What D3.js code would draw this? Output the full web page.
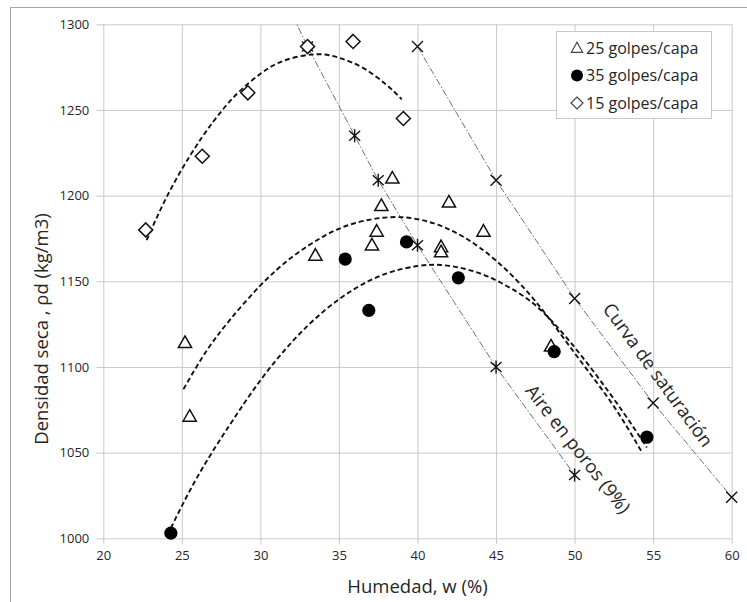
<!DOCTYPE html>
<html><head><meta charset="utf-8">
<script src="https://cdn.jsdelivr.net/npm/d3@7"></script>
<style>
body{margin:0;background:#fff}
svg text{font-family:'Open Sans',sans-serif;fill:#262626}
</style>
</head><body>
<svg id="chart" width="747" height="602"></svg>
<script>
// ---------- data ----------
const xTicks = [20,25,30,35,40,45,50,55,60];
const yTicks = [1000,1050,1100,1150,1200,1250,1300];
const legendLabels = ["25 golpes/capa","35 golpes/capa","15 golpes/capa"];
const xTitle = "Humedad, w (%)";
const yTitle = "Densidad seca , \u03c1d (kg/m3)";
const satLabel = "Curva de saturación";
const airLabel = "Aire en poros (9%)";

// 25 golpes/capa (triangles)
const w25 = [25.2,25.5,33.5,37.1,37.4,37.7,38.4,41.5,41.5,42.0,44.2,48.5];
const d25 = [1114,1071,1165,1171,1179,1194,1210,1170,1167,1196,1179,1112];
// 35 golpes/capa (filled circles)
const w35 = [24.3,35.4,36.9,39.3,42.6,48.7,54.6];
const d35 = [1003,1163,1133,1173,1152,1109,1059];
// 15 golpes/capa (diamonds)
const w15 = [22.7,26.3,29.2,33.0,35.9,39.1];
const d15 = [1180,1223,1260,1287,1290,1245];

// saturation curve (x markers)
const wSat = [40,45,50,55,60];
const dSat = [1287,1209,1140,1079,1024];
// air voids 9% curve (asterisk markers); first point lies above the plot
const wAir = [30,33,36,37.5,40,45,50];
const dAir = [1344,1287,1235,1209,1171,1100,1037];
const airMarkerFrom = 1;

// trend curves
const fit15W = [22.76,24,25.5,27,28.5,30,31.5,33.5,35,36.5,38,39];
const fit15D = [1174,1198.6,1223,1243.2,1259.3,1271.1,1278.8,1282.5,1280.5,1274.7,1264.9,1256.2];
const fit25W = [25.1,26.5,28,30,32,34,36,38.6,41,43,45,47,48.65,50.5,52.5,54.3];
const fit25D = [1087,1108.4,1126.8,1147.6,1164,1176.1,1183.9,1187.5,1183.9,1175.5,1162.1,1143.8,1124.9,1102,1077,1050];
const fit35W = [24.3,26,28,30,32,34,36,38,40,41.5,43,44.5,46,47.6,49.5,51.4,53.1,54.6];
const fit35D = [1006,1036,1065.5,1092.2,1114.5,1132.3,1145.6,1154.5,1158.9,1159.5,1157.3,1152.7,1145.6,1135.3,1117,1095,1073.5,1053];

// ---------- layout ----------
const svg = d3.select("#chart");
const L = 103.3, R = 731.7, T = 24.3, B = 538.3;
const x = d3.scaleLinear().domain([20,60]).range([L,R]);
const y = d3.scaleLinear().domain([1000,1300]).range([B,T]);
const gridColor = "#c9c9c9";

// outer frame
svg.append("rect").attr("x",10.5).attr("y",7.5).attr("width",760).attr("height",620)
  .attr("fill","none").attr("stroke","#a6a6a6").attr("stroke-width",1);

// gridlines via axes
const gx = svg.append("g").attr("transform",`translate(0,${B})`)
  .call(d3.axisBottom(x).tickValues(xTicks).tickFormat(d3.format("d")).tickSize(-(B-T)).tickSizeOuter(0).tickPadding(12));
gx.select(".domain").remove();
gx.selectAll(".tick line").attr("stroke",gridColor).attr("y1",6);
gx.selectAll(".tick text").attr("font-size",13).attr("fill","#404040")
  .attr("font-family","'Open Sans',sans-serif");

const gy = svg.append("g").attr("transform",`translate(${L},0)`)
  .call(d3.axisLeft(y).tickValues(yTicks).tickFormat(d3.format("d")).tickSize(-(R-L)).tickSizeOuter(0).tickPadding(14));
gy.select(".domain").remove();
gy.selectAll(".tick line").attr("stroke",gridColor).attr("x1",-7);
gy.selectAll(".tick text").attr("font-size",13).attr("fill","#404040")
  .attr("font-family","'Open Sans',sans-serif");

// axis titles
svg.append("text").attr("x",(L+R)/2).attr("y",593).attr("text-anchor","middle")
  .attr("font-size",18.5).text(xTitle);
svg.append("text").attr("transform",`translate(48,329) rotate(-90)`)
  .attr("text-anchor","middle").attr("font-size",18.5).text(yTitle);

// clip
svg.append("clipPath").attr("id","plotclip").append("rect")
  .attr("x",L).attr("y",T).attr("width",R-L).attr("height",B-T);

const lineStraight = d3.line().x(d=>x(d[0])).y(d=>y(d[1]));
const lineSmooth = d3.line().x(d=>x(d[0])).y(d=>y(d[1])).curve(d3.curveNatural);

// reference curves (thin dash-dot)
const refG = svg.append("g").attr("clip-path","url(#plotclip)");
refG.append("path").datum(d3.zip(wAir,dAir)).attr("d",lineStraight)
  .attr("fill","none").attr("stroke","#6e6e6e").attr("stroke-width",1).attr("stroke-dasharray","7,2,1.5,2");
refG.append("path").datum(d3.zip(wSat,dSat)).attr("d",lineStraight)
  .attr("fill","none").attr("stroke","#6e6e6e").attr("stroke-width",1).attr("stroke-dasharray","7,2,1.5,2");

// trend curves (black dashed)
[[fit15W,fit15D],[fit25W,fit25D],[fit35W,fit35D]].forEach(([a,b])=>{
  svg.append("path").datum(d3.zip(a,b)).attr("d",lineSmooth)
    .attr("fill","none").attr("stroke","#111").attr("stroke-width",1.9).attr("stroke-dasharray","5,3");
});

// marker shapes
const triPath = "M0,-7L6.6,4.6L-6.6,4.6Z";
const diaPath = "M0,-7L7,0L0,7L-7,0Z";
const xPath = "M-5.5,-5.5L5.5,5.5M-5.5,5.5L5.5,-5.5";
const astPath = "M-5.5,-5L5.5,5M-5.5,5L5.5,-5M0,-6.5L0,6.5";

// air markers
svg.append("g").selectAll("path").data(d3.zip(wAir,dAir).slice(airMarkerFrom)).join("path")
  .attr("transform",d=>`translate(${x(d[0])},${y(d[1])})`).attr("d",astPath)
  .attr("fill","none").attr("stroke","#111").attr("stroke-width",1.4);
// saturation markers
svg.append("g").selectAll("path").data(d3.zip(wSat,dSat)).join("path")
  .attr("transform",d=>`translate(${x(d[0])},${y(d[1])})`).attr("d",xPath)
  .attr("fill","none").attr("stroke","#111").attr("stroke-width",1.4);

// 15 golpes diamonds
svg.append("g").selectAll("path").data(d3.zip(w15,d15)).join("path")
  .attr("transform",d=>`translate(${x(d[0])},${y(d[1])})`).attr("d",diaPath)
  .attr("fill","#fff").attr("stroke","#111").attr("stroke-width",1.5);
// 25 golpes triangles
svg.append("g").selectAll("path").data(d3.zip(w25,d25)).join("path")
  .attr("transform",d=>`translate(${x(d[0])},${y(d[1])})`).attr("d",triPath)
  .attr("fill","#fff").attr("stroke","#111").attr("stroke-width",1.5);
// 35 golpes circles
svg.append("g").selectAll("circle").data(d3.zip(w35,d35)).join("circle")
  .attr("cx",d=>x(d[0])).attr("cy",d=>y(d[1])).attr("r",6.6).attr("fill","#000");

// annotations
svg.append("text").attr("transform","translate(658,375) rotate(54)")
  .attr("text-anchor","middle").attr("dy","0.35em").attr("font-size",18.5).text(satLabel);
svg.append("text").attr("transform","translate(578,449) rotate(52)")
  .attr("text-anchor","middle").attr("dy","0.35em").attr("font-size",18.5).text(airLabel);

// legend
const lg = svg.append("g");
lg.append("rect").attr("x",556.5).attr("y",31.5).attr("width",155).attr("height",87)
  .attr("fill","#fff").attr("stroke","#c9c9c9");
const rowsY = [48.3,75.5,103];
const legSym = [
  g=>g.append("path").attr("d","M0,-6L5.6,4L-5.6,4Z").attr("fill","#fff").attr("stroke","#444").attr("stroke-width",1.2),
  g=>g.append("circle").attr("r",6).attr("fill","#000"),
  g=>g.append("path").attr("d","M0,-6L6,0L0,6L-6,0Z").attr("fill","#fff").attr("stroke","#444").attr("stroke-width",1.2)
];
legendLabels.forEach((t,i)=>{
  const g = lg.append("g").attr("transform",`translate(577,${rowsY[i]})`);
  legSym[i](g);
  lg.append("text").attr("x",586).attr("y",rowsY[i]).attr("dy","0.35em")
    .attr("font-size",16).text(t);
});
</script>
</body></html>
